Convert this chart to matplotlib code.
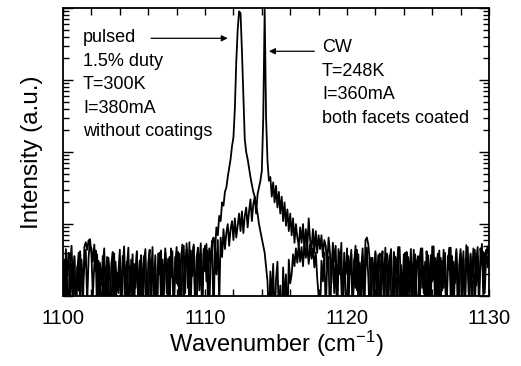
import numpy as np
import matplotlib
matplotlib.use('Agg')
import matplotlib.pyplot as plt
from matplotlib.ticker import MultipleLocator, LogLocator, NullFormatter

plt.rcParams['font.family'] = ['Liberation Sans', 'DejaVu Sans']
plt.rcParams['mathtext.default'] = 'regular'

# sampling grid of the spectra, 0.1 cm^-1 steps
wavenumber = np.linspace(1100, 1130, 301)

# pulsed, 1.5% duty, T=300K, no coatings (one row = 1 cm^-1)
pulsed = [
    1.5, 3.2, 0.5, 2.4, 4.0, 0.6, 2.8, 1.0, 3.5, 0.4,
    2.6, 1.2, 4.2, 2.0, 0.7, 4.8, 5.6, 4.4, 6.0, 5.0,
    4.6, 3.0, 5.2, 2.2, 3.8, 0.5, 2.9, 1.4, 3.6, 0.4,
    2.5, 0.8, 3.4, 1.8, 0.45, 2.7, 3.9, 0.6, 2.1, 1.1,
    3.3, 0.5, 2.4, 4.9, 1.3, 3.0, 0.35, 2.6, 1.7, 3.8,
    0.6, 2.3, 4.1, 0.9, 3.1, 0.4, 2.0, 3.6, 1.2, 0.5,
    2.9, 4.4, 0.7, 2.5, 1.5, 3.7, 0.45, 2.2, 4.0, 0.8,
    3.2, 1.0, 4.6, 2.1, 0.5, 3.5, 1.8, 4.2, 0.6, 2.7,
    4.8, 1.4, 3.9, 0.5, 2.6, 5.0, 1.1, 5.4, 2.4, 0.7,
    4.3, 1.9, 5.2, 0.6, 3.4, 4.7, 1.2, 3.8, 0.5, 4.5,
    2.2, 5.3, 1.0, 4.6, 3.0, 5.8,
    6.5, 4.0, 9, 7, 13, 11, 20, 18, 28, 32,
    45, 60, 80, 120, 160, 400, 1800, 5000, 9000, 8500,
    2500, 600, 150, 100, 80, 60, 45, 35, 28, 24,
    18, 14, 10, 8, 6.3, 5.0, 4.0, 2.5, 1.6,
    0.4, 2.2, 0.9, 2.8, 0.35, 1.7, 3.0, 0.5, 1.4, 0.3,
    2.5, 0.8, 2.0, 0.4, 3.2, 1.5,
    2.0, 3.8, 2.6, 4.6, 2.9, 5.2, 3.0, 4.8, 2.6, 5.4,
    3.4, 5.0, 2.8, 5.3, 3.3, 4.6, 2.5, 4.0, 1.8, 1.0,
    0.5, 3.1, 1.6, 4.0, 0.6, 2.6, 3.5, 0.4, 2.1, 4.3,
    1.1, 3.3, 0.5, 2.7, 4.1, 1.4, 0.4, 3.0, 2.0, 4.6,
    0.7, 2.4, 3.8, 0.5, 3.2, 1.3, 4.4, 0.6, 2.9, 1.0,
    3.6, 0.45, 2.2, 4.7, 1.8, 0.5, 3.4, 2.5, 0.7, 4.0,
    1.5, 3.7, 0.4, 2.8, 4.2, 0.8, 2.3, 3.9, 0.5, 3.1,
    4.5, 1.2, 0.4, 3.5, 2.0, 4.8, 0.6, 2.7, 1.0, 3.8,
    0.5, 4.1, 2.5, 0.7, 3.3, 1.6, 4.4, 0.45, 2.9, 3.6,
    0.6, 2.2, 4.6, 1.1, 3.0, 0.4, 3.7, 2.4, 0.8, 4.9,
    1.7, 3.4, 0.5, 2.6, 4.3, 0.7, 3.1, 1.3, 4.0, 0.45,
    2.8, 4.7, 1.0, 3.6, 0.5, 2.3, 4.5, 1.5, 0.6, 3.9,
    2.1, 4.2, 0.7, 3.2, 4.8, 1.2, 3.7, 0.5, 2.6, 4.4,
    1.4, 3.5, 0.6, 4.6, 2.9, 4.1, 1.1, 3.8, 4.9, 3.6,
]

# CW, T=248K, both facets coated
cw = [
    3.0, 0.6, 4.5, 1.8, 0.4, 2.9, 5.0, 1.3, 3.6, 0.5,
    2.2, 4.0, 0.7, 3.2, 1.5, 2.6, 4.4, 0.8, 3.4, 6.2,
    3.8, 1.0, 2.7, 4.3, 0.5, 3.1, 1.6, 0.4, 2.5, 4.6,
    0.9, 3.5, 1.4, 0.45, 2.8, 4.1, 0.6, 3.0, 1.2, 2.2,
    4.4, 0.7, 3.6, 1.9, 0.4, 2.5, 4.7, 0.9, 3.2, 0.5,
    2.8, 1.3, 4.2, 0.6, 2.4, 3.7, 0.4, 3.0, 4.5, 1.0,
    0.5, 3.4, 1.7, 4.8, 0.7, 2.6, 0.4, 3.9, 2.0, 4.3,
    0.8, 2.5, 4.0, 1.1, 3.3, 0.45, 4.6, 2.2, 0.6, 3.5,
    1.5, 4.1, 0.5, 3.0, 5.2, 0.7, 2.7, 4.4, 1.3, 5.6,
    0.9, 3.6, 4.9, 1.2, 0.5, 4.2, 2.8, 5.4, 0.7, 3.9,
    5.0, 1.6, 4.3, 0.6, 3.4, 5.8,
    0.4, 5.5, 2.0, 6.0, 0.8,
    6.5, 3.5, 8.5, 4.5, 7.5, 10, 5.0, 8.5, 11, 6.0,
    12, 6.5, 9.5, 14, 8.0, 15, 7.5, 13, 17, 9.0,
    15, 22, 11, 19, 24, 14, 26, 32, 40, 55,
    300, 9500, 300,
    75, 40, 45, 24, 38, 20, 34,
    17, 28, 14, 24, 11, 20, 9.5, 16, 8.0, 14,
    7.0, 12, 5.5, 10, 6.5, 5.0, 9.0, 5.5, 10, 4.5,
    8.5, 4.5, 12, 6.0, 4.5, 8.5, 4.0, 8.0, 4.0, 7.0,
    4.5, 7.0, 3.5, 6.0, 5.0, 2.5, 6.5, 4.0, 1.5, 5.5,
    3.0, 5.0, 0.9, 4.5, 2.0, 5.5, 0.6, 4.0, 1.2,
    0.5, 3.6, 2.0, 4.4, 0.7, 2.9, 5.0, 1.2, 3.8, 0.45,
    2.4, 4.6, 1.0, 6.0, 6.5, 5.2, 3.1, 0.6, 3.4, 1.7,
    4.2, 0.5, 2.6, 3.9, 0.8, 3.0, 1.4, 4.7, 0.4, 2.3,
    3.7, 1.1, 0.5, 4.1, 2.7, 0.7, 3.3, 4.8, 1.5, 0.45,
    2.9, 4.0, 0.6, 3.5, 1.9, 4.5, 0.5, 2.4, 3.8, 1.0,
    0.4, 3.1, 4.6, 1.3, 2.6, 0.6, 4.2, 3.0, 0.5, 3.7,
    1.6, 4.9, 0.7, 2.8, 3.9, 0.45, 3.4, 1.2, 4.4, 2.1,
    0.5, 3.6, 2.3, 4.7, 0.8, 3.0, 1.5, 4.1, 0.6, 2.7,
    4.5, 1.0, 3.3, 0.5, 5.1, 2.4, 0.7, 3.9, 1.8, 4.6,
    0.6, 3.2, 4.8, 1.3, 2.6, 5.3, 0.9, 3.7, 4.4, 2.5,
    4.1,
]

pulsed_label = 'pulsed\n1.5% duty\nT=300K\nI=380mA\nwithout coatings'
cw_label = 'CW\nT=248K\nI=360mA\nboth facets coated'

fig = plt.figure(figsize=(5.21, 3.66), dpi=100)
ax = fig.add_axes([0.121, 0.191, 0.8176, 0.787])

ax.plot(wavenumber, pulsed, color='k', lw=1.3)
ax.plot(wavenumber, cw, color='k', lw=1.3)

ax.set_yscale('log')
ax.set_xlim(1100, 1130)
ax.set_ylim(1, 1e4)

ax.xaxis.set_major_locator(MultipleLocator(10))
ax.xaxis.set_minor_locator(MultipleLocator(2))
ax.yaxis.set_major_locator(LogLocator(base=10))
ax.yaxis.set_minor_locator(LogLocator(base=10, subs=np.arange(2, 10)))
ax.yaxis.set_major_formatter(NullFormatter())
ax.yaxis.set_minor_formatter(NullFormatter())

ax.tick_params(which='both', direction='in', top=True, right=True, width=1)
ax.tick_params(axis='x', which='both', length=5, labelsize=14.5, pad=9)
ax.tick_params(axis='y', which='major', length=7)
ax.tick_params(axis='y', which='minor', length=4)
for s in ax.spines.values():
    s.set_linewidth(1.3)

ax.set_xlabel('Wavenumber (cm$^{-1}$)', fontsize=17, labelpad=1)
ax.set_ylabel('Intensity (a.u.)', fontsize=17.5, labelpad=11)

ax.text(0.047, 0.927, pulsed_label, transform=ax.transAxes, fontsize=13,
        va='top', ha='left', linespacing=1.5)
ax.text(0.608, 0.892, cw_label, transform=ax.transAxes, fontsize=13,
        va='top', ha='left', linespacing=1.5)

arrow = dict(arrowstyle='-|>', color='k', lw=0.9, mutation_scale=9,
             shrinkA=0, shrinkB=0)
ax.annotate('', xy=(1111.6, 10**3.58), xytext=(1106.2, 10**3.58),
            arrowprops=arrow)
ax.annotate('', xy=(1114.5, 10**3.40), xytext=(1117.7, 10**3.40),
            arrowprops=arrow)

fig.savefig('out.png', dpi=100)
